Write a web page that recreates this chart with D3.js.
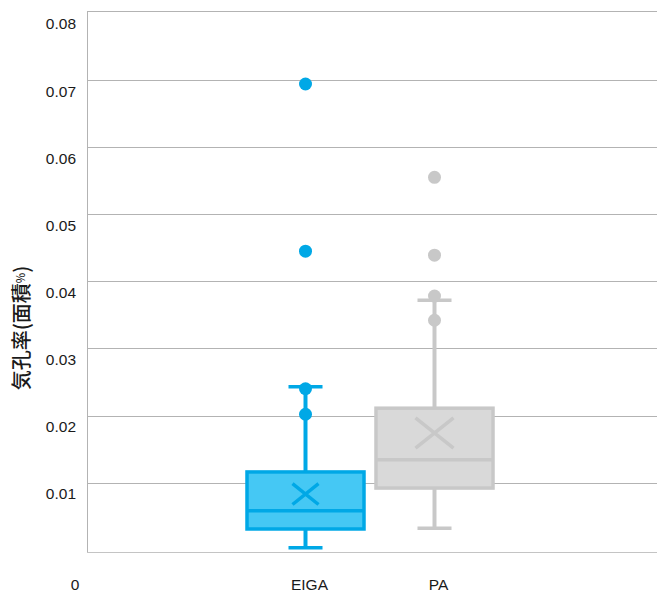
<!DOCTYPE html>
<html>
<head>
<meta charset="utf-8">
<script src="https://cdn.jsdelivr.net/npm/d3@7/dist/d3.min.js"></script>
<style>
  html, body { margin: 0; padding: 0; background: #fff; }
  svg { display: block; }
</style>
</head>
<body>
<svg id="chart" width="657" height="592"></svg>
<script>
// Categories and five-number summaries (porosity, area fraction)
const categories = ["EIGA", "PA"];
const whiskerLow  = [0.0003, 0.0032];
const q1          = [0.0031, 0.0092];
const medians     = [0.0058, 0.0134];
const q3          = [0.0116, 0.0211];
const whiskerHigh = [0.0243, 0.0372];
const means       = [0.0083, 0.0174];
const points      = [
  [0.0240, 0.0202, 0.0445, 0.0694],
  [0.0378, 0.0342, 0.0439, 0.0555]
];
const meanMarkSize = [13, 19];
const yTicks = [0.01, 0.02, 0.03, 0.04, 0.05, 0.06, 0.07, 0.08];
const yTitle = "気孔率(面積";

const strokeColors = ["#00a8e6", "#c8c8c8"];
const fillColors   = ["#45c8f4", "#d9d9d9"];

const svg = d3.select("#chart");
const plot = { left: 87, right: 657, top: 12, bottom: 553 };

const y = d3.scaleLinear().domain([0, 0.07]).range([549.8, 80]);
const x = d3.scaleBand().domain(categories).range([241, 499]).padding(0);
const boxW = x.bandwidth() * 0.907;
const cx = c => x(c) + x.bandwidth() / 2;

// grid lines
svg.append("g").selectAll("line").data(yTicks.filter(t => t < 0.08)).join("line")
  .attr("x1", plot.left).attr("x2", plot.right)
  .attr("y1", d => Math.round(y(d)) + 0.5).attr("y2", d => Math.round(y(d)) + 0.5)
  .attr("stroke", "#b3b3b3").attr("stroke-width", 1);

// plot frame: top, left, bottom
svg.append("line").attr("x1", plot.left).attr("x2", plot.right)
  .attr("y1", plot.top - 0.5).attr("y2", plot.top - 0.5)
  .attr("stroke", "#b3b3b3");
svg.append("line").attr("x1", plot.left + 0.5).attr("x2", plot.left + 0.5)
  .attr("y1", plot.top - 1).attr("y2", plot.bottom)
  .attr("stroke", "#b3b3b3");
svg.append("line").attr("x1", plot.left).attr("x2", plot.right)
  .attr("y1", plot.bottom - 0.5).attr("y2", plot.bottom - 0.5)
  .attr("stroke", "#c4c4c4");

// y tick labels, set just below their grid lines
const labelFont = "'Liberation Sans', Arial, sans-serif";
svg.append("g").selectAll("text").data(yTicks).join("text")
  .attr("x", 76).attr("y", d => y(d) + 11)
  .attr("text-anchor", "end").attr("dominant-baseline", "central")
  .attr("font-family", labelFont).attr("font-size", 15.5).attr("fill", "#1a1a1a")
  .text(d => d3.format(".2f")(d));
svg.append("text").attr("x", 75).attr("y", 584)
  .attr("text-anchor", "middle").attr("dominant-baseline", "central")
  .attr("font-family", labelFont).attr("font-size", 15.5).attr("fill", "#1a1a1a")
  .text("0");

// category labels
svg.append("g").selectAll("text").data(categories).join("text")
  .attr("x", d => cx(d) + 4).attr("y", 584)
  .attr("text-anchor", "middle").attr("dominant-baseline", "central")
  .attr("font-family", labelFont).attr("font-size", 15.5).attr("fill", "#1a1a1a")
  .text(d => d);

// y axis title
const title = svg.append("text")
  .attr("transform", "translate(20,328) rotate(-90)")
  .attr("text-anchor", "middle").attr("dominant-baseline", "central")
  .attr("font-family", "'Noto Sans CJK JP', sans-serif").attr("font-size", 20)
  .attr("font-weight", 500).attr("fill", "#1a1a1a");
title.append("tspan").text(yTitle);
title.append("tspan").attr("font-size", 11).text("%");
title.append("tspan").text(")");

// boxes
categories.forEach((c, i) => {
  const g = svg.append("g");
  const sc = strokeColors[i], fc = fillColors[i];
  const xc = cx(c);
  const capW = 34, sw = 3.5;
  // whisker stems
  g.append("line").attr("x1", xc).attr("x2", xc)
    .attr("y1", y(whiskerHigh[i])).attr("y2", y(q3[i]))
    .attr("stroke", sc).attr("stroke-width", 4);
  g.append("line").attr("x1", xc).attr("x2", xc)
    .attr("y1", y(q1[i])).attr("y2", y(whiskerLow[i]))
    .attr("stroke", sc).attr("stroke-width", 4);
  // caps
  [whiskerHigh[i], whiskerLow[i]].forEach(v => {
    g.append("line").attr("x1", xc - capW / 2).attr("x2", xc + capW / 2)
      .attr("y1", y(v)).attr("y2", y(v))
      .attr("stroke", sc).attr("stroke-width", sw);
  });
  // box
  g.append("rect")
    .attr("x", xc - boxW / 2).attr("width", boxW)
    .attr("y", y(q3[i])).attr("height", y(q1[i]) - y(q3[i]))
    .attr("fill", fc).attr("stroke", sc).attr("stroke-width", sw);
  // median
  g.append("line").attr("x1", xc - boxW / 2).attr("x2", xc + boxW / 2)
    .attr("y1", y(medians[i])).attr("y2", y(medians[i]))
    .attr("stroke", sc).attr("stroke-width", sw);
  // mean marker (X)
  const m = meanMarkSize[i], my = y(means[i]);
  g.append("path")
    .attr("d", `M${xc - m},${my - m * 0.8}L${xc + m},${my + m * 0.8}M${xc - m},${my + m * 0.8}L${xc + m},${my - m * 0.8}`)
    .attr("stroke", sc).attr("stroke-width", 3.5).attr("fill", "none");
  // individual points
  g.selectAll("circle").data(points[i]).join("circle")
    .attr("cx", xc).attr("cy", d => y(d)).attr("r", 6.5)
    .attr("fill", sc);
});
</script>
</body>
</html>
